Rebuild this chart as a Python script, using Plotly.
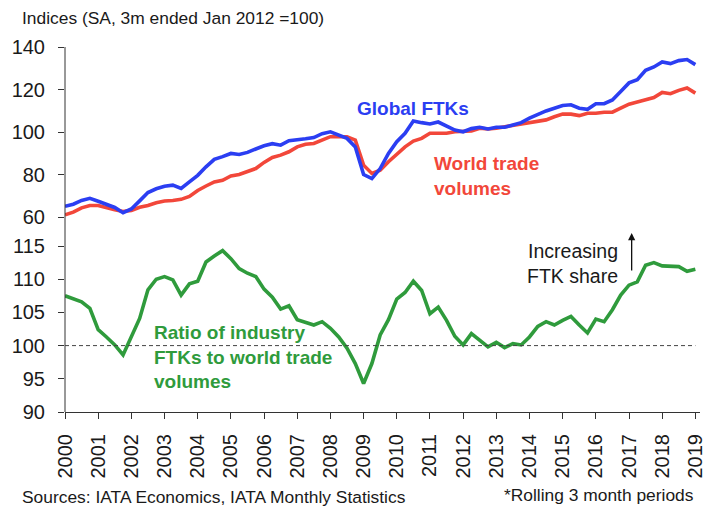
import plotly.graph_objects as go

# Quarterly points, 2000Q1 .. 2019Q1 (rolling 3-month periods)
years = [2000 + 0.25 * i for i in range(77)]

global_ftks = [
    65.0, 66.0, 67.8, 68.8,
    67.4, 66.0, 64.5, 62.0,
    63.8, 67.6, 71.5, 73.3,
    74.5, 75.0, 73.4, 76.5,
    79.6, 83.6, 87.1, 88.4,
    89.9, 89.4, 90.4, 92.0,
    93.5, 94.5, 93.8, 95.9,
    96.2, 96.8, 97.4, 99.2,
    100.1, 98.6, 97.0, 93.0,
    80.0, 78.1, 82.8, 89.9,
    95.4, 99.4, 105.2, 104.4,
    103.8, 104.7, 102.8, 100.9,
    100.1, 101.6, 102.2, 101.4,
    102.2, 102.2, 103.3, 104.4,
    106.5, 108.4, 109.9, 111.2,
    112.5, 112.8, 111.2, 110.7,
    113.3, 113.3, 115.1, 119.1,
    123.1, 124.6, 129.0, 130.6,
    133.0, 132.2, 133.6, 134.1,
    131.7,
]

world_trade = [
    61.0, 62.3, 64.3, 65.4,
    65.4, 64.3, 63.4, 62.6,
    63.1, 64.6, 65.4, 66.7,
    67.5, 67.8, 68.3, 69.7,
    72.5, 74.6, 76.5, 77.3,
    79.3, 80.0, 81.2, 82.8,
    85.7, 88.0, 89.1, 90.7,
    93.0, 94.2, 94.6, 96.2,
    97.8, 97.8, 97.8, 96.2,
    84.4, 80.5, 82.0, 86.0,
    89.6, 93.0, 95.7, 97.0,
    99.4, 99.4, 99.4, 100.1,
    100.1, 100.5, 101.8, 101.4,
    101.8, 102.5, 103.3, 103.8,
    104.6, 105.2, 105.7, 107.2,
    108.4, 108.4, 107.7, 108.8,
    108.8, 109.3, 109.3, 111.2,
    113.1, 114.1, 115.1, 116.2,
    118.6, 118.0, 119.6, 120.7,
    118.3,
]

ratio = [
    107.5, 107.0, 106.6, 105.6,
    102.4, 101.3, 100.1, 98.6,
    101.3, 104.1, 108.4, 110.0,
    110.4, 109.9, 107.6, 109.3,
    109.7, 112.6, 113.5, 114.3,
    113.1, 111.6, 110.9, 110.4,
    108.5, 107.3, 105.5, 106.0,
    103.9, 103.5, 103.1, 103.6,
    102.6, 101.3, 99.6, 97.3,
    94.3, 97.3, 101.6, 103.9,
    107.0, 108.0, 109.7, 108.3,
    104.8, 105.8, 103.8, 101.4,
    100.1, 101.8, 100.8, 99.8,
    100.5, 99.7, 100.3, 100.1,
    101.3, 102.9, 103.6, 103.1,
    103.8, 104.4, 103.1, 101.9,
    104.0, 103.6, 105.4, 107.6,
    109.1, 109.6, 112.1, 112.5,
    112.0, 112.0, 111.9, 111.2,
    111.5,
]

tick_years = list(range(2000, 2020))
tick_labels = [str(y) for y in tick_years]
top_ticks = [60, 80, 100, 120, 140]
bottom_ticks = [90, 95, 100, 105, 110, 115]

BLUE = "#2b3ef2"
RED = "#f2473a"
GREEN = "#2f9b3c"
FONT = "Liberation Sans, Arial, sans-serif"
TXT = "#1a1a1a"

fig = go.Figure()
fig.add_trace(go.Scatter(x=years, y=world_trade, mode="lines",
                         line=dict(color=RED, width=3.6), yaxis="y", xaxis="x",
                         showlegend=False))
fig.add_trace(go.Scatter(x=years, y=global_ftks, mode="lines",
                         line=dict(color=BLUE, width=3.6), yaxis="y", xaxis="x",
                         showlegend=False))
fig.add_trace(go.Scatter(x=years, y=ratio, mode="lines",
                         line=dict(color=GREEN, width=3.6), yaxis="y2", xaxis="x",
                         showlegend=False))

top_dom = [(412 - 217) / 365, 1.0]
bot_dom = [0.0, (412 - 246) / 365]

fig.update_layout(
    width=718, height=506,
    margin=dict(l=58, r=15, t=47, b=94),
    paper_bgcolor="white", plot_bgcolor="white",
    font=dict(family=FONT, color=TXT),
    xaxis=dict(domain=[0, 1], anchor="y2", range=[2000, 2019.14],
               tickmode="array", tickvals=tick_years, ticktext=tick_labels,
               tickangle=-90, tickfont=dict(size=20, color=TXT),
               ticklabelstandoff=7,
               showline=True, linecolor="#333", linewidth=1,
               ticks="outside", ticklen=6, tickcolor="#333",
               showgrid=False, zeroline=False),
    yaxis=dict(domain=top_dom, anchor="x", range=[60, 140],
               tickmode="array", tickvals=top_ticks,
               tickfont=dict(size=20, color=TXT), ticklabelstandoff=9,
               showline=False, ticks="outside", ticklen=6, tickcolor="#333",
               showgrid=False, zeroline=False),
    yaxis2=dict(domain=bot_dom, anchor="x", range=[90, 115],
                tickmode="array", tickvals=bottom_ticks,
                tickfont=dict(size=20, color=TXT), ticklabelstandoff=9,
                showline=False, ticks="outside", ticklen=6, tickcolor="#333",
                showgrid=False, zeroline=False),
)

shapes = [
    # continuous left axis line
    dict(type="line", xref="paper", yref="paper", x0=0, x1=0, y0=0, y1=1,
         line=dict(color="#333", width=1)),
    # 100 reference line in ratio panel
    dict(type="line", xref="x", yref="y2", x0=2000, x1=2019.0, y0=100, y1=100,
         line=dict(color="#444", width=1, dash="4px,3px")),
]
fig.update_layout(shapes=shapes)

def px_x(p):
    return (p - 58) / 645

def px_y(p):
    return (412 - p) / 365

annotations = [
    dict(text="Indices (SA, 3m ended Jan 2012 =100)", xref="paper", yref="paper",
         x=px_x(12), y=px_y(18), xanchor="left", yanchor="middle",
         showarrow=False, font=dict(size=17.4, color=TXT)),
    dict(text="Sources: IATA Economics, IATA Monthly Statistics", xref="paper", yref="paper",
         x=px_x(12), y=px_y(497), xanchor="left", yanchor="middle",
         showarrow=False, font=dict(size=17.4, color=TXT)),
    dict(text="*Rolling 3 month periods", xref="paper", yref="paper",
         x=px_x(699), y=px_y(495), xanchor="right", yanchor="middle",
         showarrow=False, font=dict(size=17.4, color=TXT)),
    dict(text="<b>Global FTKs</b>", xref="x", yref="y",
         x=2008.74, y=110.9, xanchor="left", yanchor="middle",
         showarrow=False, font=dict(size=19, color=BLUE)),
    dict(text="<b>World trade<br>volumes</b>", xref="x", yref="y",
         x=2011.05, y=79.4, xanchor="left", yanchor="middle", align="left",
         showarrow=False, font=dict(size=19, color=RED)),
    dict(text="<b>Ratio of industry<br>FTKs to world trade<br>volumes</b>", xref="x", yref="y2",
         x=2002.63, y=98.3, xanchor="left", yanchor="middle", align="left",
         showarrow=False, font=dict(size=19, color=GREEN)),
    dict(text="Increasing<br>FTK share", xref="x", yref="y2",
         x=2016.73, y=112.4, xanchor="right", yanchor="middle", align="right",
         showarrow=False, font=dict(size=19.5, color=TXT)),
    dict(text="", xref="x", yref="paper", x=2017.08, y=px_y(233),
         showarrow=True, ax=0, ay=39, arrowhead=2, arrowsize=1.1,
         arrowwidth=1.3, arrowcolor="#111", standoff=0),
]
fig.update_layout(annotations=annotations)

fig.write_html("out.html", config={"displayModeBar": False},
               post_script="document.body.style.margin='0';document.body.style.padding='0';")
